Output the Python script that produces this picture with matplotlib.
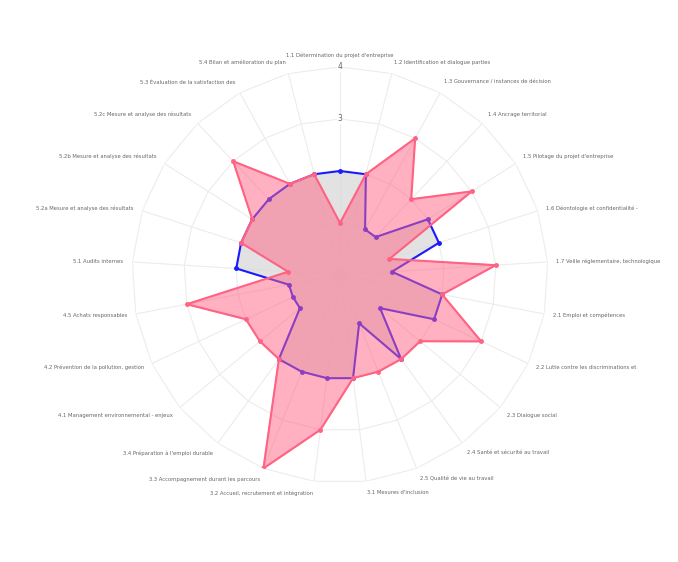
import numpy as np
import matplotlib.pyplot as plt

labels = [
    "1.1 Détermination du projet d'entreprise",
    "1.2 Identification et dialogue parties",
    "1.3 Gouvernance / instances de décision",
    "1.4 Ancrage territorial",
    "1.5 Pilotage du projet d'entreprise",
    "1.6 Déontologie et confidentialité -",
    "1.7 Veille réglementaire, technologique",
    "2.1 Emploi et compétences",
    "2.2 Lutte contre les discriminations et",
    "2.3 Dialogue social",
    "2.4 Santé et sécurité au travail",
    "2.5 Qualité de vie au travail",
    "3.1 Mesures d'inclusion",
    "3.2 Accueil, recrutement et intégration",
    "3.3 Accompagnement durant les parcours",
    "3.4 Préparation à l'emploi durable",
    "4.1 Management environnemental - enjeux",
    "4.2 Prévention de la pollution, gestion",
    "4.5 Achats responsables",
    "5.1 Audits internes",
    "5.2a Mesure et analyse des résultats",
    "5.2b Mesure et analyse des résultats",
    "5.2c Mesure et analyse des résultats",
    "5.3 Évaluation de la satisfaction des",
    "5.4 Bilan et amélioration du plan",
]
serie_bleue = [2, 2, 1, 1, 2, 2, 1, 2, 2, 1, 2, 1, 2, 2, 2, 2, 1, 1, 1, 2, 2, 2, 2, 2, 2]
serie_rose = [1, 2, 3, 2, 3, 1, 3, 2, 3, 2, 2, 2, 2, 3, 4, 2, 2, 2, 3, 1, 2, 2, 3, 2, 2]
graduations = [1, 2, 3, 4]
graduations_affichees = [3, 4]

n = len(labels)
angles = np.arange(n) * 2 * np.pi / n
angles_f = np.append(angles, angles[0])

fig = plt.figure(figsize=(6.78, 5.62), dpi=100)
ax = fig.add_axes([0.1947, 0.1406, 0.6136, 0.7402], projection='polar')
ax.set_theta_offset(np.pi / 2)
ax.set_theta_direction(-1)
ax.set_ylim(0, 4)
ax.grid(False)
ax.set_xticks([])
ax.set_yticks([])
ax.spines['polar'].set_visible(False)

grille = '#ececec'
# anneaux polygonaux
for g in graduations:
    ax.plot(angles_f, [g] * (n + 1), color=grille, lw=0.8, zorder=1)
# rayons
for a in angles:
    ax.plot([a, a], [0, 4], color=grille, lw=0.8, zorder=1)

# serie bleue
b = serie_bleue + serie_bleue[:1]
ax.fill(angles_f, b, color=(0.86, 0.86, 0.86, 0.8), zorder=2)
ax.plot(angles_f, b, color='#1a1aff', lw=1.5, zorder=3)
ax.plot(angles, serie_bleue, 'o', color='#1a1aff', ms=2.5, zorder=3)

# serie rose
r = serie_rose + serie_rose[:1]
ax.fill(angles_f, r, color=(1.0, 0.39, 0.52, 0.5), zorder=4)
ax.plot(angles_f, r, color='#ff6384', lw=1.5, zorder=5)
ax.plot(angles, serie_rose, 'o', color='#ff6384', ms=2.5, zorder=5)

for g in graduations_affichees:
    ax.text(0, g, str(g), ha='center', va='center', fontsize=5.5,
            color='#666666', zorder=6,
            bbox=dict(facecolor='white', edgecolor='none', pad=0.5))

for a, lab in zip(angles, labels):
    deg = np.degrees(a)
    if np.isclose(deg, 0) or np.isclose(deg, 180):
        ha = 'center'
    elif deg < 180:
        ha = 'left'
    else:
        ha = 'right'
    if deg < 60 or deg > 300:
        va = 'bottom'
    elif 120 < deg < 240:
        va = 'top'
    else:
        va = 'center'
    ax.text(a, 4.17, lab, ha=ha, va=va, fontsize=3.8, color='#666666')

fig.savefig('out.png', dpi=100)
